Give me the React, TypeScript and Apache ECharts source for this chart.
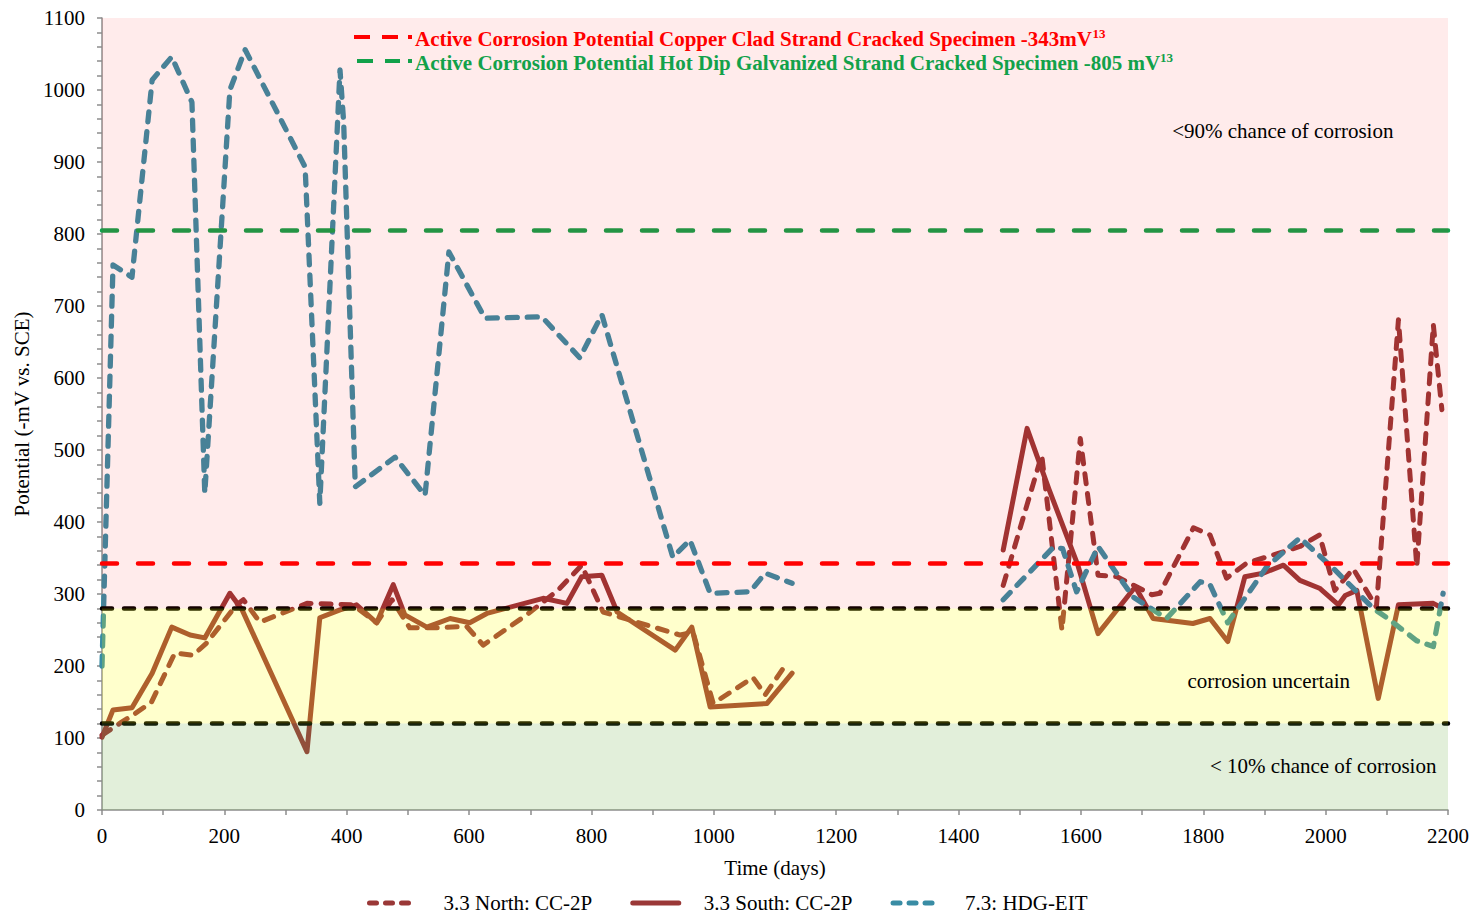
import React, { useEffect, useRef } from "react";
import * as echarts from "echarts";

// Half-cell potential readings, [day, -mV vs. SCE]; null breaks the line between campaigns
const northData: (number[] | null)[] = [
  [0, 104], [32, 122], [51, 132], [81, 150], [119, 218], [149, 215], [171, 232], [220, 285],
  [231, 292], [258, 261], [335, 287], [410, 285], [449, 260], [474, 292], [503, 253], [548, 253],
  [596, 255], [623, 229], [694, 271], [745, 305], [784, 340], [819, 275], [945, 243], [966, 247],
  [999, 148], [1064, 184], [1084, 160], [1116, 200],
  null,
  [1473, 312], [1536, 493], [1569, 250], [1599, 516], [1628, 326], [1659, 324], [1716, 299],
  [1729, 301], [1784, 392], [1811, 382], [1838, 322], [1871, 343], [1925, 357], [1958, 366],
  [1990, 382], [2015, 305], [2045, 335], [2083, 282], [2119, 681], [2149, 338], [2176, 674],
  [2190, 556],
];

const southData: (number[] | null)[] = [
  [0, 101], [18, 139], [49, 142], [82, 190], [114, 254], [144, 243], [168, 239], [209, 301],
  [229, 278], [335, 81], [356, 267], [389, 278], [416, 285], [449, 260], [476, 313], [495, 271],
  [531, 254], [569, 266], [601, 260], [629, 273], [721, 294], [760, 287], [784, 324], [817, 326],
  [842, 275], [937, 222], [964, 254], [994, 143], [1087, 148], [1128, 190],
  null,
  [1473, 361], [1512, 530], [1548, 445], [1595, 340], [1628, 245], [1689, 310], [1718, 266],
  [1783, 259], [1811, 266], [1840, 234], [1868, 324], [1898, 329], [1931, 340], [1958, 319],
  [1990, 308], [2021, 285], [2032, 298], [2051, 305], [2086, 155], [2119, 285], [2176, 287],
  [2187, 282],
];

const hdgData: (number[] | null)[] = [
  [0, 200], [18, 757], [49, 740], [82, 1014], [114, 1046], [147, 983], [168, 440], [209, 1000],
  [234, 1056], [332, 893], [356, 426], [389, 1028], [395, 955], [414, 449], [479, 490],
  [528, 437], [567, 775], [626, 683], [719, 685], [781, 628], [817, 688], [933, 351], [961, 375],
  [994, 301], [1059, 303], [1084, 329], [1128, 315],
  null,
  [1473, 292], [1555, 365], [1570, 363], [1593, 303], [1628, 366], [1685, 296], [1740, 266],
  [1795, 317], [1811, 313], [1840, 260], [1904, 338], [1958, 378], [2012, 336], [2078, 280],
  [2100, 267], [2149, 235], [2176, 227], [2192, 301],
];

const seriesNames = ["3.3 North: CC-2P", "3.3 South: CC-2P", "7.3: HDG-EIT"];

// Reference potentials (mV)
const copperCladActive = 343;
const galvanizedActive = 805;
const uncertainUpper = 280;
const uncertainLower = 120;

// Probability zones: [xStart, yLow, xEnd, yHigh]
const zoneBands = [
  [0, 280, 2200, 1100],
  [0, 120, 2200, 280],
  [0, 0, 2200, 120],
];
const zoneColors = ["rgba(255,0,0,0.08)", "rgba(255,255,0,0.2)", "rgba(112,173,71,0.2)"];
const zoneLabels = ["<90% chance of corrosion", "corrosion uncertain", "< 10% chance of corrosion"];
const zoneLabelAt = [
  [1930, 943],
  [1907, 179],
  [1996, 61],
];

const xTicks = { min: 0, max: 2200, interval: 200 };
const yTicks = { min: 0, max: 1100, interval: 100 };

const FONT = "'Liberation Serif', 'Times New Roman', serif";
const FS = 21;
const DARK_RED = "#9a3837";
const TEAL = "#398ca4";
const RED = "#ff0000";
const GREEN = "#12a14a";
const AXIS_GREY = "#8c8c8c";

export default function App() {
  const ref = useRef<HTMLDivElement>(null);

  useEffect(() => {
    if (!ref.current) return;
    const chart = echarts.init(ref.current, null, { renderer: "svg" });

    const lineSeries = (name: string, data: any, color: string, dashed: boolean, width: number) => ({
      name,
      type: "line",
      data,
      z: 2,
      symbol: "none",
      showSymbol: false,
      connectNulls: false,
      silent: true,
      color,
      lineStyle: {
        color,
        width,
        type: dashed ? [10, 10] : "solid",
        cap: "round",
        join: "round",
      },
    });

    const axisCommon = {
      axisLine: { show: true, lineStyle: { color: AXIS_GREY, width: 1.5 } },
      axisTick: { show: true, length: 5, lineStyle: { color: AXIS_GREY, width: 1.5 } },
      splitLine: { show: false },
    };

    const note = (text: string, color: string) => ({
      text: `{a|${text}}{s|13}`,
      verticalAlign: "middle",
      rich: {
        a: { fontFamily: FONT, fontSize: FS, fontWeight: "bold", fill: color },
        s: { fontFamily: FONT, fontSize: 13, fontWeight: "bold", fill: color, verticalAlign: "top", padding: [0, 0, 12, 0] },
      },
    });

    const legendDash = { width: 5, type: [7, 9], cap: "round" };
    const legendSolid = { width: 5, type: "solid", cap: "round" };

    const option: any = {
      animation: false,
      backgroundColor: "#ffffff",
      textStyle: { fontFamily: FONT },
      grid: { left: 102, right: 35, top: 18, bottom: 106, containLabel: false },
      legend: {
        data: [
          { name: seriesNames[0], lineStyle: legendDash },
          { name: seriesNames[1], lineStyle: legendSolid },
          { name: seriesNames[2], lineStyle: legendDash },
        ],
        top: 891,
        left: 367,
        padding: 0,
        itemWidth: 46,
        itemHeight: 12,
        itemGap: 38,
        itemStyle: { opacity: 0 },
        formatter: (name: string) => {
          const i = seriesNames.indexOf(name);
          return `{p${i}|}{t|${name}}`;
        },
        textStyle: {
          fontFamily: FONT,
          fontSize: FS,
          color: "#000",
          lineHeight: 24,
          rich: {
            p0: { width: 23 },
            p1: { width: 20 },
            p2: { width: 21 },
            t: { fontFamily: FONT, fontSize: FS, color: "#000", lineHeight: 24 },
          },
        },
      },
      xAxis: {
        type: "value",
        ...xTicks,
        ...axisCommon,
        name: "Time (days)",
        nameLocation: "middle",
        nameGap: 47,
        nameTextStyle: { fontFamily: FONT, fontSize: FS, color: "#000" },
        minorTick: { show: true, splitNumber: 2, length: 5, lineStyle: { color: AXIS_GREY, width: 1.5 } },
        axisLabel: { fontFamily: FONT, fontSize: FS, color: "#000", margin: 15, formatter: (v: number) => String(v) },
      },
      yAxis: {
        type: "value",
        ...yTicks,
        ...axisCommon,
        name: "Potential (-mV vs. SCE)",
        nameLocation: "middle",
        nameGap: 70,
        nameTextStyle: { fontFamily: FONT, fontSize: FS, color: "#000" },
        minorTick: { show: true, splitNumber: 5, length: 5, lineStyle: { color: AXIS_GREY, width: 1.5 } },
        axisLabel: { fontFamily: FONT, fontSize: FS, color: "#000", margin: 17, formatter: (v: number) => String(v) },
      },
      series: [
        lineSeries(seriesNames[0], northData, DARK_RED, true, 5),
        lineSeries(seriesNames[1], southData, DARK_RED, false, 5),
        lineSeries(seriesNames[2], hdgData, TEAL, true, 5.3),
        {
          name: "reference potentials",
          type: "line",
          data: [],
          z: 2,
          silent: true,
          markLine: {
            silent: true,
            symbol: ["none", "none"],
            label: { show: false },
            animation: false,
            data: [
              { yAxis: uncertainUpper, lineStyle: { color: "#000", width: 4.5, type: [10, 12], cap: "round" } },
              { yAxis: uncertainLower, lineStyle: { color: "#000", width: 4.5, type: [10, 12], cap: "round" } },
              { yAxis: copperCladActive, lineStyle: { color: RED, width: 4.5, type: [15, 21], cap: "round" } },
              { yAxis: galvanizedActive, lineStyle: { color: GREEN, width: 4.5, type: [15, 21], cap: "round" } },
            ],
          },
        },
        {
          name: "zones",
          type: "custom",
          z: 5,
          silent: true,
          data: zoneBands,
          encode: { x: [0, 2], y: [1, 3] },
          renderItem: (params: any, api: any) => {
            const p1 = api.coord([api.value(0), api.value(3)]);
            const p2 = api.coord([api.value(2), api.value(1)]);
            return {
              type: "rect",
              shape: { x: p1[0], y: p1[1], width: p2[0] - p1[0], height: p2[1] - p1[1] },
              style: { fill: zoneColors[params.dataIndex] },
            };
          },
        },
        {
          name: "zone labels",
          type: "custom",
          z: 6,
          silent: true,
          data: zoneLabelAt,
          renderItem: (params: any, api: any) => {
            const p = api.coord([api.value(0), api.value(1)]);
            return {
              type: "text",
              x: p[0],
              y: p[1],
              style: {
                text: zoneLabels[params.dataIndex],
                fill: "#000",
                font: `${FS}px ${FONT}`,
                align: "center",
                verticalAlign: "middle",
              },
            };
          },
        },
      ],
      graphic: [
        {
          type: "line",
          z: 10,
          shape: { x1: 354, y1: 37, x2: 400, y2: 37 },
          style: { stroke: RED, lineWidth: 4, lineDash: [16, 12] },
        },
        { type: "rect", z: 10, shape: { x: 408, y: 35, width: 4, height: 4 }, style: { fill: RED } },
        {
          type: "text",
          z: 10,
          x: 415,
          y: 39,
          style: note("Active Corrosion Potential Copper Clad Strand Cracked Specimen -343mV", RED),
        },
        {
          type: "line",
          z: 10,
          shape: { x1: 357, y1: 61, x2: 400, y2: 61 },
          style: { stroke: GREEN, lineWidth: 4, lineDash: [16, 12] },
        },
        { type: "rect", z: 10, shape: { x: 408, y: 59, width: 4, height: 4 }, style: { fill: GREEN } },
        {
          type: "text",
          z: 10,
          x: 415,
          y: 63,
          style: note("Active Corrosion Potential Hot Dip Galvanized Strand Cracked Specimen -805 mV", GREEN),
        },
      ],
    };

    chart.setOption(option);
    return () => chart.dispose();
  }, []);

  return (
    <div
      ref={ref}
      style={{ position: "absolute", left: 0, top: 0, width: 1483, height: 916, overflow: "hidden" }}
    />
  );
}
